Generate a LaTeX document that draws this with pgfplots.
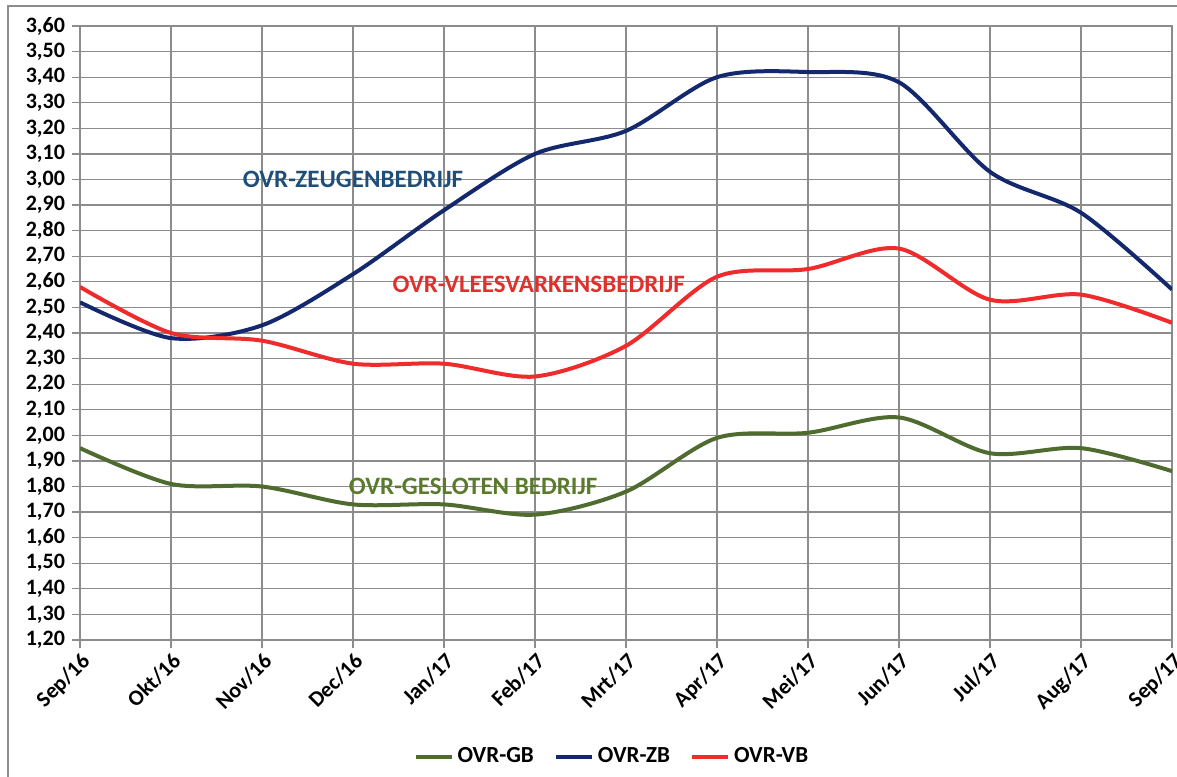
\documentclass[border=0pt]{standalone}
\usepackage{pgfplots}
\pgfplotsset{compat=1.18}
\usepackage{fontspec}
\setmainfont{Carlito}
\definecolor{gbc}{HTML}{4F6B2F}
\definecolor{zbc}{HTML}{14286E}
\definecolor{vbc}{HTML}{F02B2B}
\definecolor{gridc}{HTML}{8C8C8C}
\definecolor{zbt}{HTML}{1F4E79}
\definecolor{vbt}{HTML}{E0302D}
\definecolor{gbt}{HTML}{5A7B2C}
\begin{document}
\begin{tikzpicture}
\useasboundingbox (-40pt,-68pt) rectangle (548.5pt,320pt);
\draw[gridc, line width=0.6pt] (-36pt,-80pt) -- (-36pt,317pt) -- (560pt,317pt);
\begin{axis}[
  at={(0pt,0pt)}, anchor=south west,
  scale only axis, width=546pt, height=307pt,
  xmin=0, xmax=12, ymin=1.2, ymax=3.6,
  xtick={0,...,12},
  xticklabels={Sep/16,Okt/16,Nov/16,Dec/16,Jan/17,Feb/17,Mrt/17,Apr/17,Mei/17,Jun/17,Jul/17,Aug/17,Sep/17},
  ytick={1.2,1.3,...,3.61},
  grid=major,
  grid style={gridc, line width=0.6pt},
  axis line style={gridc, line width=0.6pt},
  tick style={gridc, line width=0.6pt},
  tick align=outside, tick pos=left,
  major tick length=4pt,
  /pgf/number format/assume math mode=true,
  yticklabel style={font=\bfseries\fontsize{11}{11}\selectfont, /pgf/number format/.cd, use comma, fixed, fixed zerofill, precision=2},
  xticklabel style={font=\bfseries\fontsize{11}{11}\selectfont, rotate=45, anchor=north east, inner sep=1pt},
  legend style={at={(0.488,-0.19)}, anchor=center, draw=none, legend columns=3,
    font=\bfseries\fontsize{11.5}{11.5}\selectfont,
    /tikz/every even column/.append style={column sep=8pt}},
  legend image code/.code={\draw[#1, line width=2pt] (0pt,0pt) -- (18pt,0pt);},
  every axis plot/.append style={line width=2pt, smooth, tension=0.5, no markers},
]
\addplot[gbc] coordinates {(0,1.95)(1,1.81)(2,1.80)(3,1.73)(4,1.73)(5,1.69)(6,1.78)(7,1.99)(8,2.01)(9,2.07)(10,1.93)(11,1.95)(12,1.86)};
\addlegendentry{OVR-GB}
\addplot[zbc] coordinates {(0,2.52)(1,2.38)(2,2.43)(3,2.63)(4,2.88)(5,3.10)(6,3.19)(7,3.40)(8,3.42)(9,3.38)(10,3.03)(11,2.87)(12,2.57)};
\addlegendentry{OVR-ZB}
\addplot[vbc] coordinates {(0,2.58)(1,2.40)(2,2.37)(3,2.28)(4,2.28)(5,2.23)(6,2.35)(7,2.62)(8,2.65)(9,2.73)(10,2.53)(11,2.55)(12,2.44)};
\addlegendentry{OVR-VB}
\node[zbt, font=\bfseries\fontsize{12.5}{12.5}\selectfont] at (axis cs:3,3.0) {OVR-ZEUGENBEDRIJF};
\node[vbt, font=\bfseries\fontsize{12.5}{12.5}\selectfont] at (axis cs:5.04,2.59) {OVR-VLEESVARKENSBEDRIJF};
\node[gbt, font=\bfseries\fontsize{12.5}{12.5}\selectfont] at (axis cs:4.32,1.80) {OVR-GESLOTEN BEDRIJF};
\end{axis}
\end{tikzpicture}
\end{document}
